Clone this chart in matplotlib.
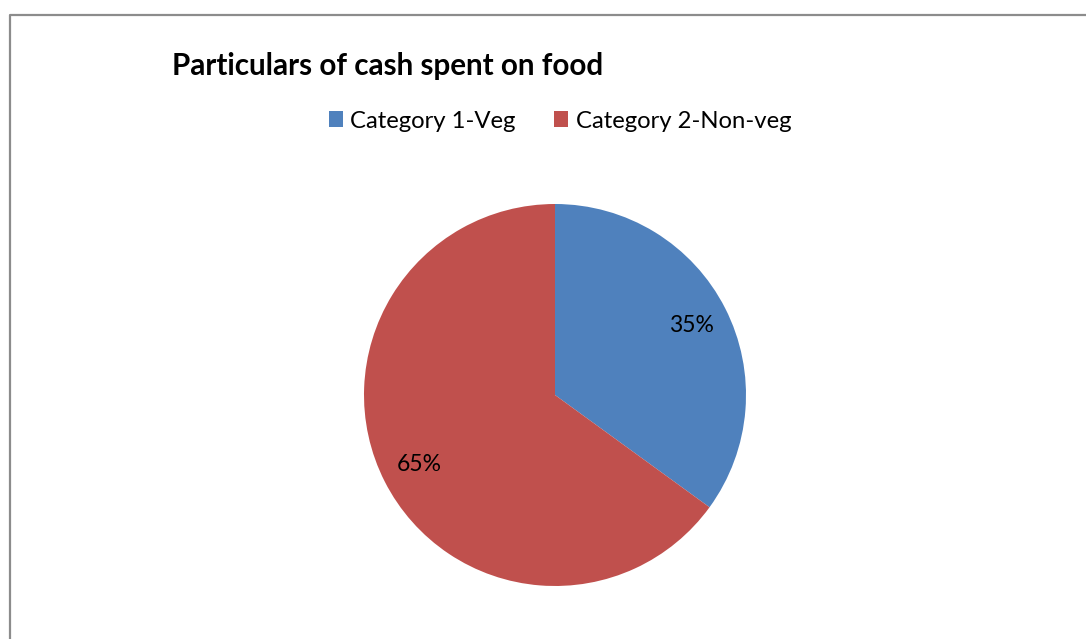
import matplotlib.pyplot as plt
from matplotlib.lines import Line2D
from matplotlib.patches import Patch

categories = ['Category 1-Veg', 'Category 2-Non-veg']
shares = [35, 65]
colors = ['#4F81BD', '#C0504D']
title = 'Particulars of cash spent on food'

plt.rcParams['font.family'] = ['Lato', 'DejaVu Sans']

W, H = 1086, 639
fig = plt.figure(figsize=(W / 100, H / 100), dpi=100)

# pie axes: centre (555, 395) px, radius 191 px
cx, cy, r = 555, 395, 191
ax = fig.add_axes([(cx - r) / W, (H - cy - r) / H, 2 * r / W, 2 * r / H])
wedges, texts, autotexts = ax.pie(
    shares, colors=colors, startangle=90, counterclock=False,
    autopct='%d%%', pctdistance=0.8,
    textprops={'fontsize': 16.5, 'color': 'black'},
)
ax.set_xlim(-1, 1)
ax.set_ylim(-1, 1)
ax.set_aspect('auto')
ax.axis('off')

fig.text(172 / W, 1 - 66 / H, title, ha='left', va='center',
         fontsize=21.3, fontweight='bold')

handles = [Patch(facecolor=c, edgecolor='none') for c in colors]
fig.legend(handles, categories, loc='center', ncol=2,
           bbox_to_anchor=(560 / W, 1 - 121 / H), frameon=False,
           fontsize=17.2, handlelength=0.6, handleheight=0.6,
           handletextpad=0.3, columnspacing=1.6)

# chart border (left and top edges only visible)
fig.add_artist(Line2D([10 / W, 10 / W, 1], [0, 1 - 15 / H, 1 - 15 / H],
                      color='#8c8c8c', lw=1.6, transform=fig.transFigure))

fig.savefig('out.png', dpi=100)
